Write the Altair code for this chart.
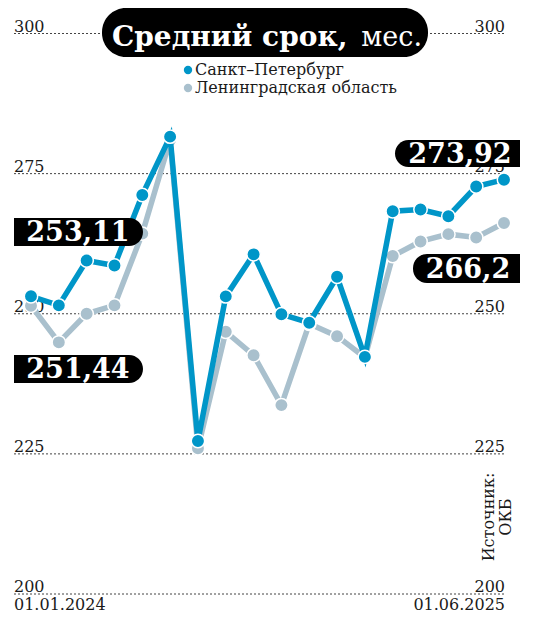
import pandas as pd
import altair as alt

# --- data ---
months = ["2024-01", "2024-02", "2024-03", "2024-04", "2024-05", "2024-06",
          "2024-07", "2024-08", "2024-09", "2024-10", "2024-11", "2024-12",
          "2025-01", "2025-02", "2025-03", "2025-04", "2025-05", "2025-06"]
spb = [253.11, 251.5, 259.5, 258.6, 271.2, 281.6, 227.3, 253.1, 260.6,
       249.9, 248.4, 256.6, 242.3, 268.3, 268.6, 267.4, 272.7, 273.92]
lo = [251.44, 244.9, 250.0, 251.5, 264.3, 281.0, 226.0, 246.8, 242.6,
      233.7, 248.2, 246.0, 242.2, 260.3, 262.9, 264.2, 263.6, 266.2]
series = ["Санкт–Петербург", "Ленинградская область"]
colors = ["#0096c8", "#a9c0cd"]
ticks = [300, 275, 250, 225, 200]
dates = ["01.01.2024", "01.06.2025"]

FONT = "DejaVu Serif"
INK = "#1a1a1a"

xs = alt.Scale(domain=[0, len(months) - 1], range=[23, 496])
ys = alt.Scale(domain=[200, 300], range=[586, 25.5])


def frame(vals):
    return pd.DataFrame({"i": range(len(months)), "month": months, "value": vals})


def fmt(v):
    return str(v).replace(".", ",")


# --- grid + tick labels ---
tick_df = pd.DataFrame({"v": ticks})
grid = alt.Chart(tick_df).mark_rule(strokeDash=[2, 2], color="#444", strokeWidth=1).encode(
    y=alt.Y("v:Q", scale=ys, axis=None), x=alt.value(6), x2=alt.value(497)
)
left_lab = alt.Chart(tick_df).mark_text(
    align="left", baseline="alphabetic", dy=-2, font=FONT, fontSize=16, color=INK
).encode(y=alt.Y("v:Q", scale=ys, axis=None), x=alt.value(6), text="v:Q")
right_lab = left_lab.mark_text(
    align="right", baseline="alphabetic", dy=-2, font=FONT, fontSize=16, color=INK
).encode(x=alt.value(497))

date_df = pd.DataFrame({"d": dates})
date_left = alt.Chart(date_df.iloc[[0]]).mark_text(
    align="left", baseline="alphabetic", font=FONT, fontSize=16, color=INK
).encode(text="d:N", x=alt.value(6), y=alt.value(602))
date_right = alt.Chart(date_df.iloc[[1]]).mark_text(
    align="right", baseline="alphabetic", font=FONT, fontSize=16, color=INK
).encode(text="d:N", x=alt.value(497), y=alt.value(602))


# --- series ---
def series_layers(vals, color):
    base = alt.Chart(frame(vals)).encode(
        x=alt.X("i:Q", scale=xs, axis=None),
        y=alt.Y("value:Q", scale=ys, axis=None),
    )
    line = base.mark_line(color=color, strokeWidth=5.5)
    pts = base.mark_circle(size=180, opacity=1, color=color, stroke="white", strokeWidth=1.5)
    return [line, pts]


lines = series_layers(lo, colors[1]) + series_layers(spb, colors[0])


# --- value pills ---
def pill(text, x, x2, y, y2, tx, left_round):
    radii = (dict(cornerRadiusTopLeft=14, cornerRadiusBottomLeft=14) if left_round
             else dict(cornerRadiusTopRight=14, cornerRadiusBottomRight=14))
    d = pd.DataFrame({"t": [text]})
    box = alt.Chart(d).mark_rect(color="black", **radii).encode(
        x=alt.value(x), x2=alt.value(x2), y=alt.value(y), y2=alt.value(y2)
    )
    lab = alt.Chart(d).mark_text(
        font=FONT, fontSize=27, fontWeight="bold", color="white",
        align="center", baseline="middle", dy=1
    ).encode(text="t:N", x=alt.value(tx), y=alt.value((y + y2) / 2))
    return [box, lab]


pills = (pill(fmt(spb[0]), 6, 135, 210, 238, 70, False)
         + pill(fmt(lo[0]), 6, 135, 347, 375, 70, False)
         + pill(fmt(spb[-1]), 387, 512, 132, 159, 452, True)
         + pill(fmt(lo[-1]), 405, 512, 246, 275, 460, True))

# --- title pill ---
tdf = pd.DataFrame({"a": ["Средний срок,"], "b": ["мес."]})
title_box = alt.Chart(tdf).mark_rect(color="black", cornerRadius=24).encode(
    x=alt.value(94), x2=alt.value(420), y=alt.value(0), y2=alt.value(49)
)
title_a = alt.Chart(tdf).mark_text(
    font=FONT, fontSize=28, fontWeight="bold", color="white", align="left", baseline="alphabetic"
).encode(text="a:N", x=alt.value(104), y=alt.value(38))
title_b = alt.Chart(tdf).mark_text(
    font=FONT, fontSize=27, color="white", align="right", baseline="alphabetic"
).encode(text="b:N", x=alt.value(414), y=alt.value(38))

# --- legend ---
legend = []
for k, (name, col) in enumerate(zip(series, colors)):
    d = pd.DataFrame({"s": [name]})
    yy = 62 + 18 * k
    legend.append(alt.Chart(d).mark_circle(size=70, opacity=1, color=col).encode(
        x=alt.value(180), y=alt.value(yy)))
    legend.append(alt.Chart(d).mark_text(
        font=FONT, fontSize=16, color=INK, align="left", baseline="middle"
    ).encode(text="s:N", x=alt.value(187), y=alt.value(yy)))

# --- source ---
source = alt.Chart(pd.DataFrame({"s": ["Источник:\nОКБ"]})).mark_text(
    font=FONT, fontSize=16, color=INK, angle=270, align="center", baseline="middle",
    lineBreak="\n", lineHeight=17
).encode(text="s:N", x=alt.value(481), y=alt.value(509))

chart = alt.layer(
    grid, left_lab, right_lab, date_left, date_right,
    *lines, *pills, title_box, title_a, title_b, *legend, source
).properties(
    width=522, height=609, padding=0,
    autosize=alt.AutoSizeParams(type="none"),
    background="white"
).configure_view(stroke=None)

chart.save("out.html", embed_options={"renderer": "svg", "actions": False})
